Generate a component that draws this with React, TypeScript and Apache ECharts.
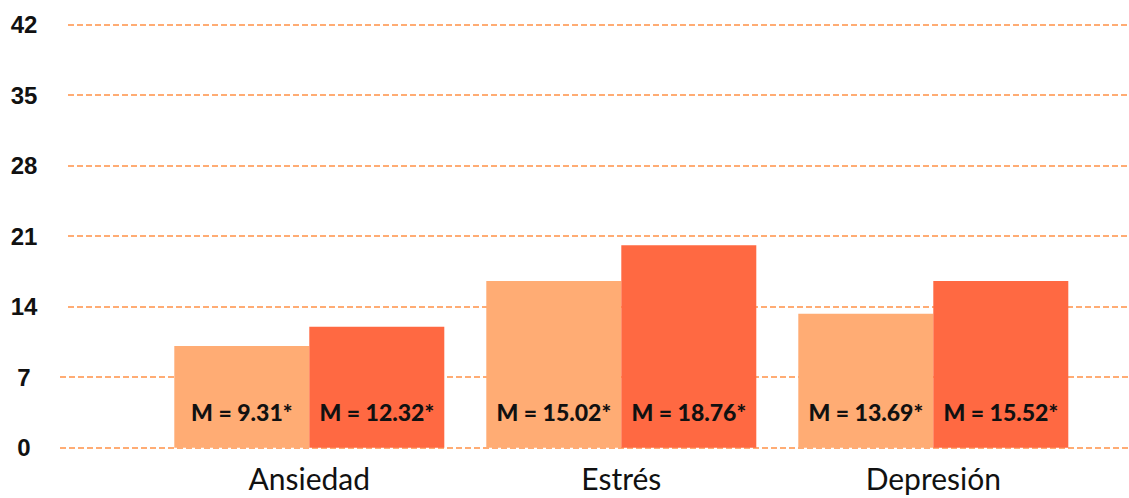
import React, { useEffect, useRef } from "react";
import * as echarts from "echarts";

const categories = ["Ansiedad", "Estrés", "Depresión"];
const seriesNames = ["Grupo A", "Grupo B"];
const barValuesLight = [10.1, 16.55, 13.3];
const barValuesDark = [12.0, 20.1, 16.55];
const meanLabelsLight = ["9.31", "15.02", "13.69"];
const meanLabelsDark = ["12.32", "18.76", "15.52"];
const upperTicks = { min: 14, max: 42, interval: 7 };
const lowerTicks = { min: 0, max: 7, interval: 7 };
const fullRange = { min: 0, max: 42 };

const LIGHT = "#FFAC74";
const DARK = "#FF6942";
const GRID_COLOR = "#FFAC74";

export default function App() {
  const ref = useRef<HTMLDivElement>(null);
  useEffect(() => {
    if (!ref.current) return;
    const chart = echarts.init(ref.current, null, { renderer: "svg" });
    const pxPerUnit = 423 / 42;
    const top = 24.7;
    const zeroY = 447.7;
    const splitLine = {
      show: true,
      lineStyle: { color: GRID_COLOR, type: [6, 3] as any, width: 2 },
    };
    const yLabel = {
      fontFamily: "Liberation Sans",
      fontWeight: "bold" as const,
      fontSize: 24,
      color: "#111",
      align: "center" as const,
    };
    const barLabel = (names: string[]) => ({
      show: true,
      position: "insideBottom" as const,
      distance: 24,
      formatter: (p: any) => `M = ${names[p.dataIndex]}*`,
      fontFamily: "Lato",
      fontWeight: 900 as any,
      fontSize: 23,
      lineHeight: 23,
      color: "#111",
    });
    chart.setOption({
      animation: false,
      grid: [
        { left: 68, right: 0, top: top, height: (42 - 14) * pxPerUnit },
        { left: 60, right: 0, top: zeroY - 7 * pxPerUnit, height: 7 * pxPerUnit },
        { left: 153.3, width: 936, top: top, height: zeroY - top },
      ],
      xAxis: [
        { type: "value", gridIndex: 0, show: false },
        { type: "value", gridIndex: 1, show: false },
        {
          type: "category",
          gridIndex: 2,
          data: categories,
          axisLine: { show: false },
          axisTick: { show: false },
          axisLabel: {
            margin: 15,
            fontFamily: "Lato",
            fontSize: 30,
            lineHeight: 30,
            color: "#111",
          },
        },
      ],
      yAxis: [
        {
          type: "value",
          gridIndex: 0,
          ...upperTicks,
          axisLine: { show: false },
          axisTick: { show: false },
          axisLabel: { ...yLabel, margin: 44 },
          splitLine,
        },
        {
          type: "value",
          gridIndex: 1,
          ...lowerTicks,
          axisLine: { show: false },
          axisTick: { show: false },
          axisLabel: { ...yLabel, margin: 36 },
          splitLine,
        },
        {
          type: "value",
          gridIndex: 2,
          ...fullRange,
          show: false,
          splitLine: { show: false },
        },
      ],
      series: [
        {
          name: seriesNames[0],
          type: "bar",
          xAxisIndex: 2,
          yAxisIndex: 2,
          data: barValuesLight,
          barWidth: 135,
          barGap: "0%",
          itemStyle: { color: LIGHT },
          label: barLabel(meanLabelsLight),
        },
        {
          name: seriesNames[1],
          type: "bar",
          xAxisIndex: 2,
          yAxisIndex: 2,
          data: barValuesDark,
          barWidth: 135,
          barGap: "0%",
          itemStyle: { color: DARK },
          label: barLabel(meanLabelsDark),
        },
      ],
    });
    return () => chart.dispose();
  }, []);
  return (
    <div
      ref={ref}
      style={{ position: "fixed", left: 0, top: 0, width: 1129, height: 498, background: "#fff" }}
    />
  );
}
